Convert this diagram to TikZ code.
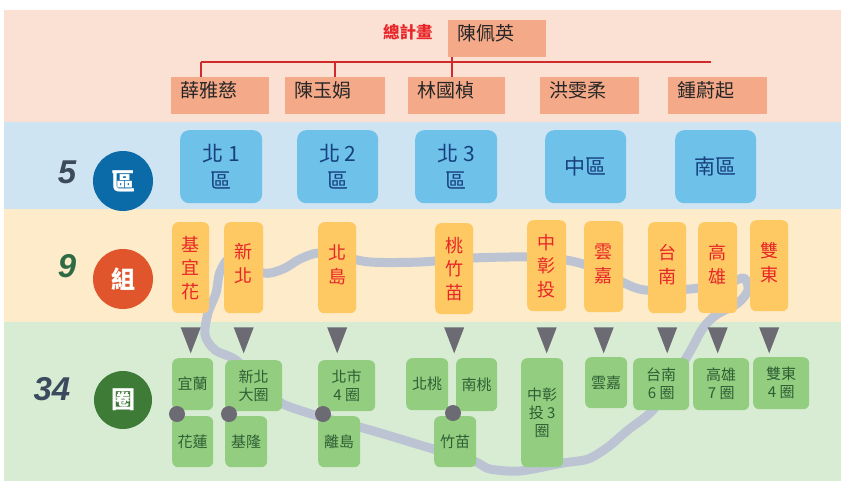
\documentclass[tikz,border=0pt]{standalone}
\usepackage{fontspec}
\setmainfont{Noto Sans CJK TC}
\newfontfamily\numfont{Liberation Sans}
\usetikzlibrary{calc}
\definecolor{pinkbg}{HTML}{FBE1D4}
\definecolor{bluebg}{HTML}{CFE4F2}
\definecolor{orangebg}{HTML}{FDEBC9}
\definecolor{greenbg}{HTML}{D8ECD4}
\definecolor{salmon}{HTML}{F4A988}
\definecolor{redline}{HTML}{D02A2A}
\definecolor{redtext}{HTML}{E8262A}
\definecolor{bluebox}{HTML}{6EC1E8}
\definecolor{navytext}{HTML}{17407F}
\definecolor{bluecirc}{HTML}{0B6AA8}
\definecolor{orangebox}{HTML}{FEC862}
\definecolor{orangecirc}{HTML}{E0552B}
\definecolor{greenbox}{HTML}{93CD7F}
\definecolor{greentext}{HTML}{2F5E34}
\definecolor{greencirc}{HTML}{3E7B36}
\definecolor{darkgrey}{HTML}{6C6A72}
\definecolor{pathgrey}{HTML}{BCC4D4}
\definecolor{numslate}{HTML}{3C4A5E}
\definecolor{numgreen}{HTML}{2E6B44}
\tikzset{
  topbox/.style={fill=salmon, inner sep=0, anchor=north west, minimum height=37},
  toplab/.style={anchor=north west, inner sep=0, xshift=9pt, yshift=-4pt,
    font=\fontsize{19}{21}\selectfont, text=black!85},
  rl/.style={draw=redline, line width=2.6pt},
  bluebx/.style={fill=bluebox, rounded corners=9pt, inner sep=0, anchor=north west,
    minimum height=73, align=center, text=navytext, font=\fontsize{21}{27}\selectfont},
  orangebx/.style={fill=orangebox, rounded corners=6pt, inner sep=0, anchor=north west,
    minimum height=91, align=center, text=redtext, font=\fontsize{18}{23.5}\selectfont},
  orangelab/.style={inner sep=0, align=center, text=redtext, font=\fontsize{18}{23.5}\selectfont},
  greenbx/.style={fill=greenbox, rounded corners=6pt, inner sep=0, anchor=north west,
    align=center, text=greentext, font=\fontsize{15}{18}\selectfont},
  circ/.style={circle, minimum size=60, inner sep=0, text=white, font=\bfseries\fontsize{24}{24}\selectfont},
  numlab/.style={inner sep=0, font=\numfont\bfseries\itshape\fontsize{33}{33}\selectfont},
  tri/.style={fill=darkgrey},
  dot/.style={fill=darkgrey},
}
\begin{document}
\begin{tikzpicture}[x=1pt,y=-1pt]
\useasboundingbox (0,0) rectangle (841,483);
% bands
\fill[pinkbg] (4,10) rectangle (841,122);
\fill[bluebg] (4,122) rectangle (841,209);
\fill[orangebg] (4,209) rectangle (841,322);
\fill[greenbg] (4,322) rectangle (841,481);

% top tree
\node[anchor=west, inner sep=0, text=redtext, font=\bfseries\fontsize{16.5}{18}\selectfont] (zjh) at (383,32) {總計畫};
\node[topbox, minimum width=98, label={[toplab]north west:陳佩英}] (chen) at (448,20) {};
\node[topbox, minimum width=98, label={[toplab]north west:薛雅慈}] (p1) at (171,77) {};
\node[topbox, minimum width=100, label={[toplab]north west:陳玉娟}] (p2) at (285,77) {};
\node[topbox, minimum width=97, label={[toplab]north west:林國楨}] (p3) at (408,77) {};
\node[topbox, minimum width=99, label={[toplab]north west:洪雯柔}] (p4) at (540,77) {};
\node[topbox, minimum width=99, label={[toplab]north west:鍾蔚起}] (p5) at (668,77) {};
\coordinate (barl) at ($(p1.north west)+(30,-15)$);
\coordinate (barr) at (711,62);
\draw[rl] (barl) -- (barr);
\draw[rl] (barl) -- (barl |- p1.north);
\draw[rl] ($(p2.north west)+(50,-15)$) -- ($(p2.north west)+(50,0)$);
\draw[rl] ([xshift=4pt]chen.south west) -- ([xshift=4pt]chen.south west |- p3.north);

% row labels and circles
\node[numlab, text=numslate] (n5) at (67,172) {5};
\node[numlab, text=numgreen] (n9) at (67,266) {9};
\node[numlab, text=numslate] (n34) at (52,389) {34};
\node[circ, fill=bluecirc] (c1) at (123,181) {區};
\node[circ, fill=orangecirc] (c2) at (123,279) {組};
\node[circ, fill=greencirc, minimum size=58] (c3) at (123,400) {圈};

% blue boxes
\node[bluebx, minimum width=82] (b1) at (180,130) {北 1\\區};
\node[bluebx, minimum width=81] (b2) at (297,130) {北 2\\區};
\node[bluebx, minimum width=82] (b3) at (415,130) {北 3\\區};
\node[bluebx, minimum width=81] (b4) at (545,130) {中區};
\node[bluebx, minimum width=81] (b5) at (675,130) {南區};

% grey island outline
\draw[pathgrey, line width=9pt, line join=round]
  plot[smooth cycle, tension=0.5] coordinates {
  (232,258) (263,273) (283,269) (300,259) (318,253) (340,256) (370,262)
  (420,262) (473,258) (527,257) (566,260) (595,268) (622,282) (645,290)
  (690,289) (728,283) (744,278) (748,290) (738,303) (716,315) (703,328)
  (692,348) (676,375) (653,410) (628,430) (608,447) (588,459) (563,463)
  (520,471) (490,469) (476,462) (450,454) (420,445) (370,430) (325,418)
  (293,408) (278,401) (258,382) (236,360) (215,350) (205,335) (208,313)
  (216,293) (220,272)};

% orange boxes
\node[orangebx, minimum width=37] (o1) at (172,222) {基\\宜\\花};
\node[orangebx, minimum width=39] (o2) at (224,222) {};
\node[orangelab] at ($(o2.center)+(0,-4)$) {新\\北};
\node[orangebx, minimum width=38] (o3) at (318,222) {};
\node[orangelab] at ($(o3.center)+(0,-3)$) {北\\島};
\node[orangebx, minimum width=38] (o4) at (435,223) {桃\\竹\\苗};
\node[orangebx, minimum width=39] (o5) at (527,220) {中\\彰\\投};
\node[orangebx, minimum width=39] (o6) at (584,221) {};
\node[orangelab] at ($(o6.center)+(0,-3)$) {雲\\嘉};
\node[orangebx, minimum width=38] (o7) at (648,222) {};
\node[orangelab] at ($(o7.center)+(0,-3)$) {台\\南};
\node[orangebx, minimum width=39] (o8) at (698,222) {};
\node[orangelab] at ($(o8.center)+(0,-3)$) {高\\雄};
\node[orangebx, minimum width=38] (o9) at (750,220) {};
\node[orangelab] at ($(o9.center)+(0,-3)$) {雙\\東};

% triangles
\foreach \o/\dy in {o1/14,o2/14,o3/14,o4/13,o5/16,o6/15,o7/14,o8/14,o9/16}{
  \fill[tri] ($(\o.south)+(-10,\dy)$) -- ++(20,0) -- ++(-10,26) -- cycle;
}

% green boxes
\node[greenbx, minimum width=41, minimum height=52] (g1) at (172,358) {宜蘭};
\node[greenbx, minimum width=41, minimum height=51] (g2) at (172,416) {花蓮};
\node[greenbx, minimum width=57, minimum height=51] (g3) at (225,360) {新北\\大圈};
\node[greenbx, minimum width=42, minimum height=51] (g4) at (225,416) {基隆};
\node[greenbx, minimum width=57, minimum height=51] (g5) at (318,360) {北市\\4 圈};
\node[greenbx, minimum width=42, minimum height=51] (g6) at (318,416) {離島};
\node[greenbx, minimum width=42, minimum height=52] (g7) at (406,358) {北桃};
\node[greenbx, minimum width=41, minimum height=53] (g8) at (456,358) {南桃};
\node[greenbx, minimum width=42, minimum height=51] (g9) at (434,416) {竹苗};
\node[greenbx, minimum width=42, minimum height=109] (g10) at (521,358) {中彰\\投 3\\圈};
\node[greenbx, minimum width=42, minimum height=51] (g11) at (585,357) {雲嘉};
\node[greenbx, minimum width=56, minimum height=52] (g12) at (633,358) {台南\\6 圈};
\node[greenbx, minimum width=56, minimum height=52] (g13) at (693,358) {高雄\\7 圈};
\node[greenbx, minimum width=56, minimum height=52] (g14) at (753,357) {雙東\\4 圈};

% joint dots
\fill[dot] ($(g2.north west)+(5,-2)$) circle (8);
\fill[dot] ($(g4.north west)+(4,-2)$) circle (8);
\fill[dot] ($(g6.north west)+(5,-2)$) circle (8);
\fill[dot] ($(g9.north west)+(19,-3)$) circle (8);
\end{tikzpicture}
\end{document}
